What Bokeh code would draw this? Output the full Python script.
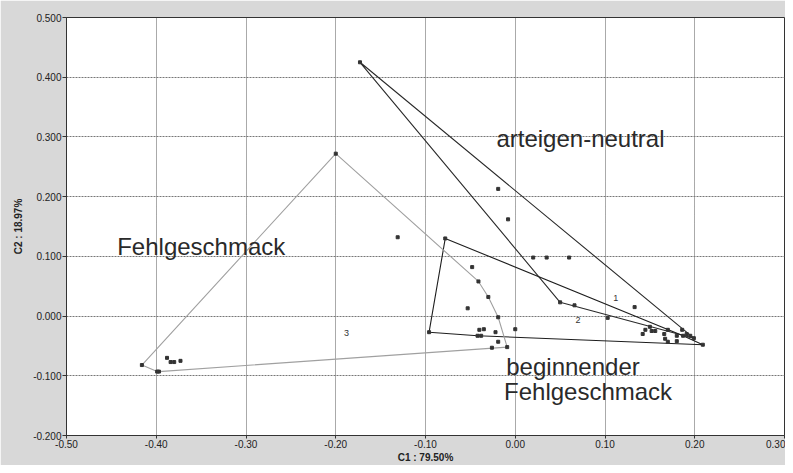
import numpy as np
from bokeh.plotting import figure
from bokeh.models import FixedTicker, NumeralTickFormatter, Range1d, Label
from bokeh.embed import file_html
from bokeh.resources import INLINE

# ---- data (C1, C2 coordinates) ----
# group 1: arteigen-neutral
g1_x = [-0.173, -0.019, -0.008, 0.020, 0.035, 0.060, 0.050, 0.066, 0.133, 0.199, 0.170, 0.186, 0.191, 0.195]
g1_y = [0.425, 0.213, 0.162, 0.098, 0.098, 0.098, 0.023, 0.018, 0.015, -0.037, -0.023, -0.023, -0.030, -0.033]

# group 2: beginnender Fehlgeschmack
g2_x = [-0.078, -0.096, 0.209, -0.048, -0.053, -0.040, -0.035, -0.042, -0.038, -0.022, 0.000, 0.103,
        0.150, 0.145, 0.152, 0.156, 0.142, 0.166, 0.167, 0.170, 0.180, 0.180, 0.187]
g2_y = [0.130, -0.027, -0.048, 0.082, 0.013, -0.023, -0.022, -0.033, -0.033, -0.027, -0.022, -0.003,
        -0.018, -0.023, -0.025, -0.025, -0.030, -0.030, -0.038, -0.043, -0.033, -0.042, -0.033]

# group 3: Fehlgeschmack
g3_x = [-0.200, -0.041, -0.030, -0.019, -0.009, -0.399, -0.416, -0.397, -0.388, -0.384, -0.380, -0.373,
        -0.131, -0.026, -0.019]
g3_y = [0.272, 0.058, 0.032, -0.002, -0.052, -0.093, -0.082, -0.093, -0.070, -0.077, -0.077, -0.075,
        0.132, -0.053, -0.043]

# group centre labels
centre_text = ["1", "2", "3"]
centre_x = [0.112, 0.070, -0.188]
centre_y = [0.030, -0.007, -0.028]

x_ticks = [-0.5, -0.4, -0.3, -0.2, -0.1, 0.0, 0.1, 0.2, 0.3]
y_ticks = [-0.2, -0.1, 0.0, 0.1, 0.2, 0.3, 0.4, 0.5]
x_title = "C1 : 79.50%"
y_title = "C2 : 18.97%"


def convex_hull(xs, ys):
    pts = sorted(set(zip(xs, ys)))

    def cross(o, a, b):
        return (a[0] - o[0]) * (b[1] - o[1]) - (a[1] - o[1]) * (b[0] - o[0])

    lower, upper = [], []
    for pt in pts:
        while len(lower) >= 2 and cross(lower[-2], lower[-1], pt) <= 0:
            lower.pop()
        lower.append(pt)
    for pt in reversed(pts):
        while len(upper) >= 2 and cross(upper[-2], upper[-1], pt) <= 0:
            upper.pop()
        upper.append(pt)
    hull = lower[:-1] + upper[:-1]
    hull.append(hull[0])
    return [h[0] for h in hull], [h[1] for h in hull]


FONT = "Liberation Sans"

p = figure(width=785, height=465, output_backend="svg", toolbar_location=None,
           x_range=Range1d(-0.5, 0.3), y_range=Range1d(-0.2, 0.5),
           min_border_left=66, min_border_right=1, min_border_top=17, min_border_bottom=28)
p.background_fill_color = "white"
p.border_fill_color = "#d8d8d8"
p.outline_line_color = "#333333"

# grids
p.xgrid.grid_line_color = "#555555"
p.xgrid.grid_line_dash = "1 1"
p.ygrid.grid_line_color = "#777777"
p.ygrid.grid_line_dash = "2 1"

# axes
p.xaxis.ticker = FixedTicker(ticks=x_ticks)
p.yaxis.ticker = FixedTicker(ticks=y_ticks)
p.xaxis.formatter = NumeralTickFormatter(format="0.00")
p.yaxis.formatter = NumeralTickFormatter(format="0.000")
for ax in (p.xaxis, p.yaxis):
    ax.major_tick_in = 0
    ax.major_tick_out = 4
    ax.minor_tick_line_color = None
    ax.axis_line_color = "#333333"
    ax.major_tick_line_color = "#333333"
    ax.major_label_text_font = FONT
    ax.major_label_text_font_size = "10px"
    ax.major_label_text_color = "#222222"
    ax.major_label_standoff = 1
    ax.axis_label_text_font = FONT
    ax.axis_label_text_font_size = "10px"
    ax.axis_label_text_font_style = "bold"
    ax.axis_label_text_color = "#222222"
    ax.axis_label_standoff = 1
p.xaxis.major_tick_out = 3
p.yaxis.axis_label_standoff = 6
p.xaxis.axis_label = x_title
p.yaxis.axis_label = y_title

# hulls
for gx, gy, col in ((g1_x, g1_y, "#2a2a2a"), (g2_x, g2_y, "#1e1e1e"), (g3_x, g3_y, "#a0a0a0")):
    hx, hy = convex_hull(gx, gy)
    p.line(hx, hy, line_color=col, line_width=1.1)

# points
all_x = g1_x + g2_x + g3_x
all_y = g1_y + g2_y + g3_y
p.scatter(all_x, all_y, marker="square", size=3, color="#333333")

# centre labels
p.text(centre_x, centre_y, text=centre_text, text_font_size="9px", text_color="#333333",
       text_align="center", text_baseline="middle")

# group annotations
for txt, lx, ly in (("arteigen-neutral", -0.021, 0.297),
                     ("Fehlgeschmack", -0.4435, 0.117),
                     ("beginnender", -0.010, -0.085),
                     ("Fehlgeschmack", -0.0125, -0.127)):
    p.add_layout(Label(x=lx, y=ly, text=txt, text_font=FONT, text_font_size="24px",
                       text_color="#2a2a2a", text_baseline="alphabetic"))

open("out.html", "w").write(file_html(p, INLINE))
